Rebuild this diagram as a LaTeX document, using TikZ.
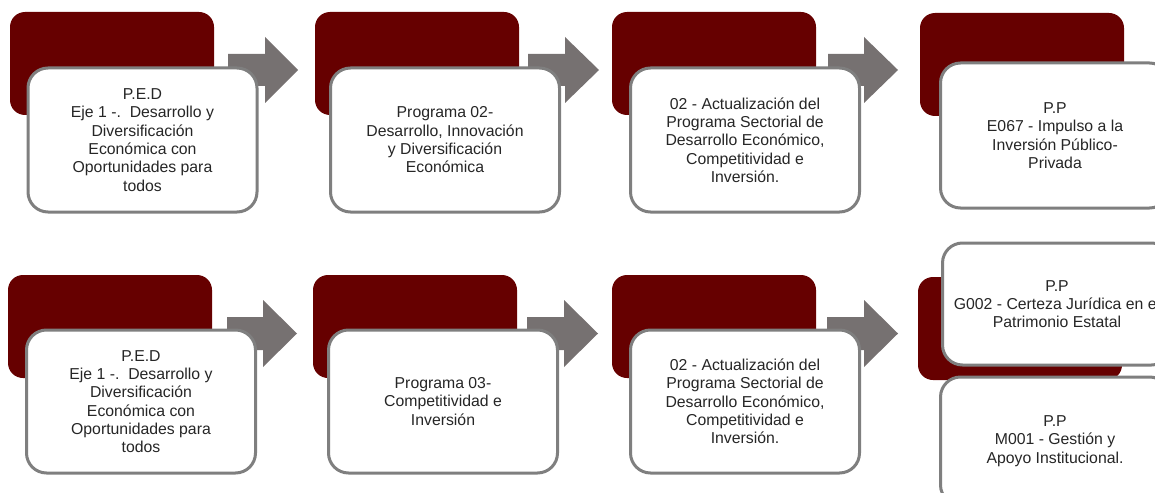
\documentclass[tikz,border=0pt]{standalone}
\usepackage{fontspec}
\setmainfont{Liberation Sans}
\definecolor{darkred}{HTML}{660000}
\definecolor{arrowgrey}{HTML}{767171}
\definecolor{boxgrey}{HTML}{7F7F7F}
\begin{document}
\begin{tikzpicture}[x=1pt,y=-1pt,
  darkbox/.style={fill=darkred, rounded corners=15pt, inner sep=0pt, outer sep=0pt, anchor=north west, minimum width=204pt, minimum height=103pt},
  whitebox/.style={draw=boxgrey, line width=3pt, fill=white, rounded corners=20pt, inner sep=0pt, outer sep=0pt, align=center, font=\fontsize{15.8}{18.3}\selectfont, text=black!85},
  blockarrow/.style={fill=arrowgrey}]
\useasboundingbox (0,0) rectangle (1155,492);
\clip (0,0) rectangle (1155,492);
% ---------- top row ----------
\node[darkbox] (d1) at (10,12) {};
\node[darkbox] (d2) at (315,12) {};
\node[darkbox] (d3) at (612,12) {};
\node[darkbox] (d4) at (920,13) {};
\fill[blockarrow] (228,54) -- (265,54) -- (265,37) -- (298,70) -- (265,103) -- (265,86) -- (228,86) -- cycle;
\fill[blockarrow] (528,54) -- (565,54) -- (565,37) -- (599,70) -- (565,103) -- (565,86) -- (528,86) -- cycle;
\fill[blockarrow] (828,54) -- (864,54) -- (864,37) -- (898,70) -- (864,103) -- (864,86) -- (828,86) -- cycle;
\node[whitebox, minimum width=229pt, minimum height=144pt] (w1) at (142.5,140) {P.E.D\\Eje 1 -.\ \ Desarrollo y\\Diversificación\\Económica con\\Oportunidades para\\todos};
\node[whitebox, minimum width=229pt, minimum height=144pt] (w2) at (445,140) {Programa 02-\\Desarrollo, Innovación\\y Diversificación\\Económica};
\node[whitebox, minimum width=229pt, minimum height=144pt] (w3) at (745,140) {02 - Actualización del\\Programa Sectorial de\\Desarrollo Económico,\\Competitividad e\\Inversión.};
\node[whitebox, minimum width=229pt, minimum height=145pt] (w4) at (1055,135.5) {P.P\\E067 - Impulso a la\\Inversión Público-\\Privada};
% ---------- bottom row ----------
\node[darkbox] (d5) at (8,275) {};
\node[darkbox] (d6) at (313,275) {};
\node[darkbox] (d7) at (612,275) {};
\node[darkbox] (d8) at (918,277) {};
\fill[blockarrow] (227,317) -- (263,317) -- (263,300) -- (297,333.5) -- (263,367) -- (263,350) -- (227,350) -- cycle;
\fill[blockarrow] (527,317) -- (564,317) -- (564,300) -- (598,333.5) -- (564,367) -- (564,350) -- (527,350) -- cycle;
\fill[blockarrow] (827,317) -- (864,317) -- (864,300) -- (898,333.5) -- (864,367) -- (864,350) -- (827,350) -- cycle;
\node[whitebox, minimum width=229pt, minimum height=143pt] (w5) at (141,401.5) {P.E.D\\Eje 1 -.\ \ Desarrollo y\\Diversificación\\Económica con\\Oportunidades para\\todos};
\node[whitebox, minimum width=229pt, minimum height=143pt] (w6) at (443,401.5) {Programa 03-\\Competitividad e\\Inversión};
\node[whitebox, minimum width=229pt, minimum height=143pt] (w7) at (745,401.5) {02 - Actualización del\\Programa Sectorial de\\Desarrollo Económico,\\Competitividad e\\Inversión.};
\node[whitebox, minimum width=229pt, minimum height=122pt] (w8) at (1057,304) {P.P\\G002 - Certeza Jurídica en el\\Patrimonio Estatal};
\node[whitebox, minimum width=229pt, minimum height=128pt] (w9) at (1055,441) {P.P\\M001 - Gestión y\\Apoyo Institucional.};
\end{tikzpicture}
\end{document}
